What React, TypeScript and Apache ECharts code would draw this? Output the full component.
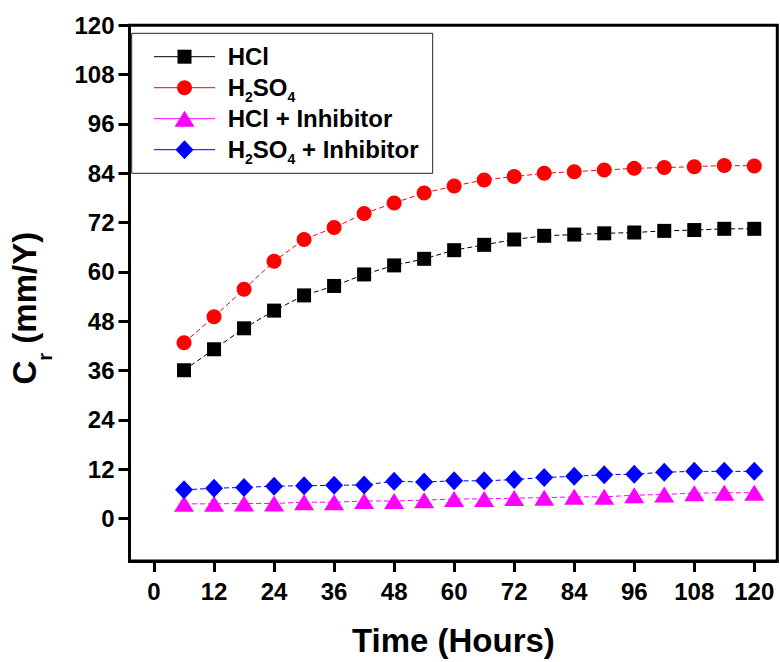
import { useEffect, useRef } from "react";
import * as echarts from "echarts";

// Exposure time (hours)
const hours = [6, 12, 18, 24, 30, 36, 42, 48, 54, 60, 66, 72, 78, 84, 90, 96, 102, 108, 114, 120];

// Corrosion rate Cr (mm/Y)
const hcl = [36.1, 41.2, 46.3, 50.6, 54.3, 56.6, 59.4, 61.6, 63.2, 65.3, 66.6, 67.9, 68.8, 69.1, 69.4, 69.6, 70.0, 70.2, 70.5, 70.5];
const h2so4 = [42.8, 49.1, 55.8, 62.6, 67.9, 70.8, 74.2, 76.8, 79.2, 80.9, 82.4, 83.2, 84.0, 84.4, 84.8, 85.2, 85.4, 85.6, 85.9, 85.8];
const hclInhibitor = [3.6, 3.6, 3.7, 3.7, 4.0, 4.0, 4.3, 4.3, 4.5, 4.8, 4.8, 5.0, 5.1, 5.3, 5.3, 5.7, 5.9, 6.2, 6.3, 6.3];
const h2so4Inhibitor = [7.0, 7.4, 7.6, 7.9, 8.0, 8.1, 8.2, 9.1, 8.9, 9.2, 9.2, 9.5, 10.0, 10.3, 10.7, 10.8, 11.3, 11.5, 11.5, 11.5];

const xTicks = [0, 12, 24, 36, 48, 60, 72, 84, 96, 108, 120];
const yTicks = [0, 12, 24, 36, 48, 60, 72, 84, 96, 108, 120];

const seriesNames = ["HCl", "H2SO4", "HCl + Inhibitor", "H2SO4 + Inhibitor"];
const seriesColors = ["#000000", "#ff0000", "#ff00ff", "#0000ff"];
// Key labels split into normal and subscript runs
const keyRuns: [string, boolean][][] = [
  [["HCl", false]],
  [["H", false], ["2", true], ["SO", false], ["4", true]],
  [["HCl + Inhibitor", false]],
  [["H", false], ["2", true], ["SO", false], ["4", true], [" + Inhibitor", false]],
];

const FONT = "'Liberation Sans', Arial, sans-serif";
const KEY_FONT = `bold 24px ${FONT}`;
const SUB_FONT = `bold 14px ${FONT}`;

const pairs = (ys: number[]) => hours.map((h, i) => [h, ys[i]]);

function textWidth(text: string, font: string) {
  const t = new echarts.graphic.Text({ style: { text, font } });
  return t.getBoundingRect().width;
}

// Marker shape used in the key for each series
function keySymbol(i: number, cx: number, cy: number, color: string) {
  const style = { fill: color, stroke: "none" };
  if (i === 0) return { type: "rect", shape: { x: cx - 7, y: cy - 7, width: 14, height: 14 }, style };
  if (i === 1) return { type: "circle", shape: { cx, cy, r: 7.5 }, style };
  if (i === 2)
    return { type: "polygon", shape: { points: [[cx, cy - 8], [cx + 10, cy + 8], [cx - 10, cy + 8]] }, style };
  return { type: "polygon", shape: { points: [[cx, cy - 9.5], [cx + 9, cy], [cx, cy + 9.5], [cx - 9, cy]] }, style };
}

export default function App() {
  const ref = useRef<HTMLDivElement>(null);

  useEffect(() => {
    if (!ref.current) return;
    const chart = echarts.init(ref.current, null, { renderer: "svg" });

    const lineSeries = (i: number, ys: number[], symbol: string, size: number | number[]) => ({
      name: seriesNames[i],
      type: "line",
      data: pairs(ys),
      symbol,
      symbolSize: size,
      showAllSymbol: true,
      itemStyle: { color: seriesColors[i] },
      lineStyle: { color: seriesColors[i], width: 1, type: [5, 3] },
      z: 3,
    });

    // Key box: left 131.7, top 33.3, rows 31 px apart
    const keyLeft = 131.7;
    const keyTop = 33.3;
    const keyChildren: any[] = [
      {
        type: "rect",
        shape: { x: keyLeft, y: keyTop, width: 301, height: 140 },
        style: { fill: "#fff", stroke: "#222", lineWidth: 1 },
      },
    ];
    seriesNames.forEach((_, i) => {
      const cy = keyTop + 23.4 + 31 * i;
      keyChildren.push({
        type: "line",
        shape: { x1: keyLeft + 22.3, y1: cy, x2: keyLeft + 83.3, y2: cy },
        style: { stroke: seriesColors[i], lineWidth: 1 },
      });
      keyChildren.push(keySymbol(i, keyLeft + 52.8, cy, seriesColors[i]));
      let x = keyLeft + 96;
      keyRuns[i].forEach(([text, sub]) => {
        const font = sub ? SUB_FONT : KEY_FONT;
        keyChildren.push({
          type: "text",
          x,
          y: sub ? cy + 9 : cy,
          style: { text, font, fill: "#000", align: "left", verticalAlign: "middle" },
        });
        x += textWidth(text, font);
      });
    });

    chart.setOption({
      animation: false,
      backgroundColor: "#fff",
      textStyle: { fontFamily: FONT },
      grid: {
        left: 126,
        right: 2.7,
        top: 25.3,
        bottom: 98.7,
        show: true,
        borderColor: "#000",
        borderWidth: 3,
      },
      graphic: [{ type: "group", z: 100, children: keyChildren }],
      xAxis: {
        type: "value",
        min: -4.9,
        max: 124.6,
        name: "Time (Hours)",
        nameLocation: "middle",
        nameGap: 63,
        nameTextStyle: { fontFamily: FONT, fontSize: 33, fontWeight: "bold", color: "#000" },
        axisLine: { show: true, onZero: false, lineStyle: { color: "#000", width: 3 } },
        axisTick: { show: true, inside: false, length: 11, lineStyle: { color: "#000", width: 3 }, customValues: xTicks },
        axisLabel: { fontFamily: FONT, fontSize: 24, fontWeight: "bold", color: "#000", margin: 18, customValues: xTicks },
        splitLine: { show: false },
      },
      yAxis: {
        type: "value",
        min: -10.3,
        max: 120,
        name: "{n|C}{s|r}{n| (mm/Y)}",
        nameLocation: "middle",
        nameRotate: 90,
        nameGap: 75,
        nameTextStyle: {
          padding: [0, 30, 0, 0],
          rich: {
            n: { fontFamily: FONT, fontSize: 33, fontWeight: "bold", color: "#000", lineHeight: 60 },
            s: { fontFamily: FONT, fontSize: 20, fontWeight: "bold", color: "#000", lineHeight: 26, verticalAlign: "bottom" },
          },
        },
        axisLine: { show: true, onZero: false, lineStyle: { color: "#000", width: 3 } },
        axisTick: { show: true, inside: false, length: 11, lineStyle: { color: "#000", width: 3 }, customValues: yTicks },
        axisLabel: { fontFamily: FONT, fontSize: 24, fontWeight: "bold", color: "#000", margin: 15, customValues: yTicks },
        splitLine: { show: false },
      },
      series: [
        lineSeries(0, hcl, "rect", 14),
        lineSeries(1, h2so4, "circle", 15),
        lineSeries(2, hclInhibitor, "triangle", [20, 16]),
        lineSeries(3, h2so4Inhibitor, "diamond", [18, 19]),
      ],
    });

    return () => chart.dispose();
  }, []);

  return (
    <div
      ref={ref}
      style={{ position: "fixed", left: 0, top: 0, width: 780, height: 662, background: "#fff" }}
    />
  );
}
